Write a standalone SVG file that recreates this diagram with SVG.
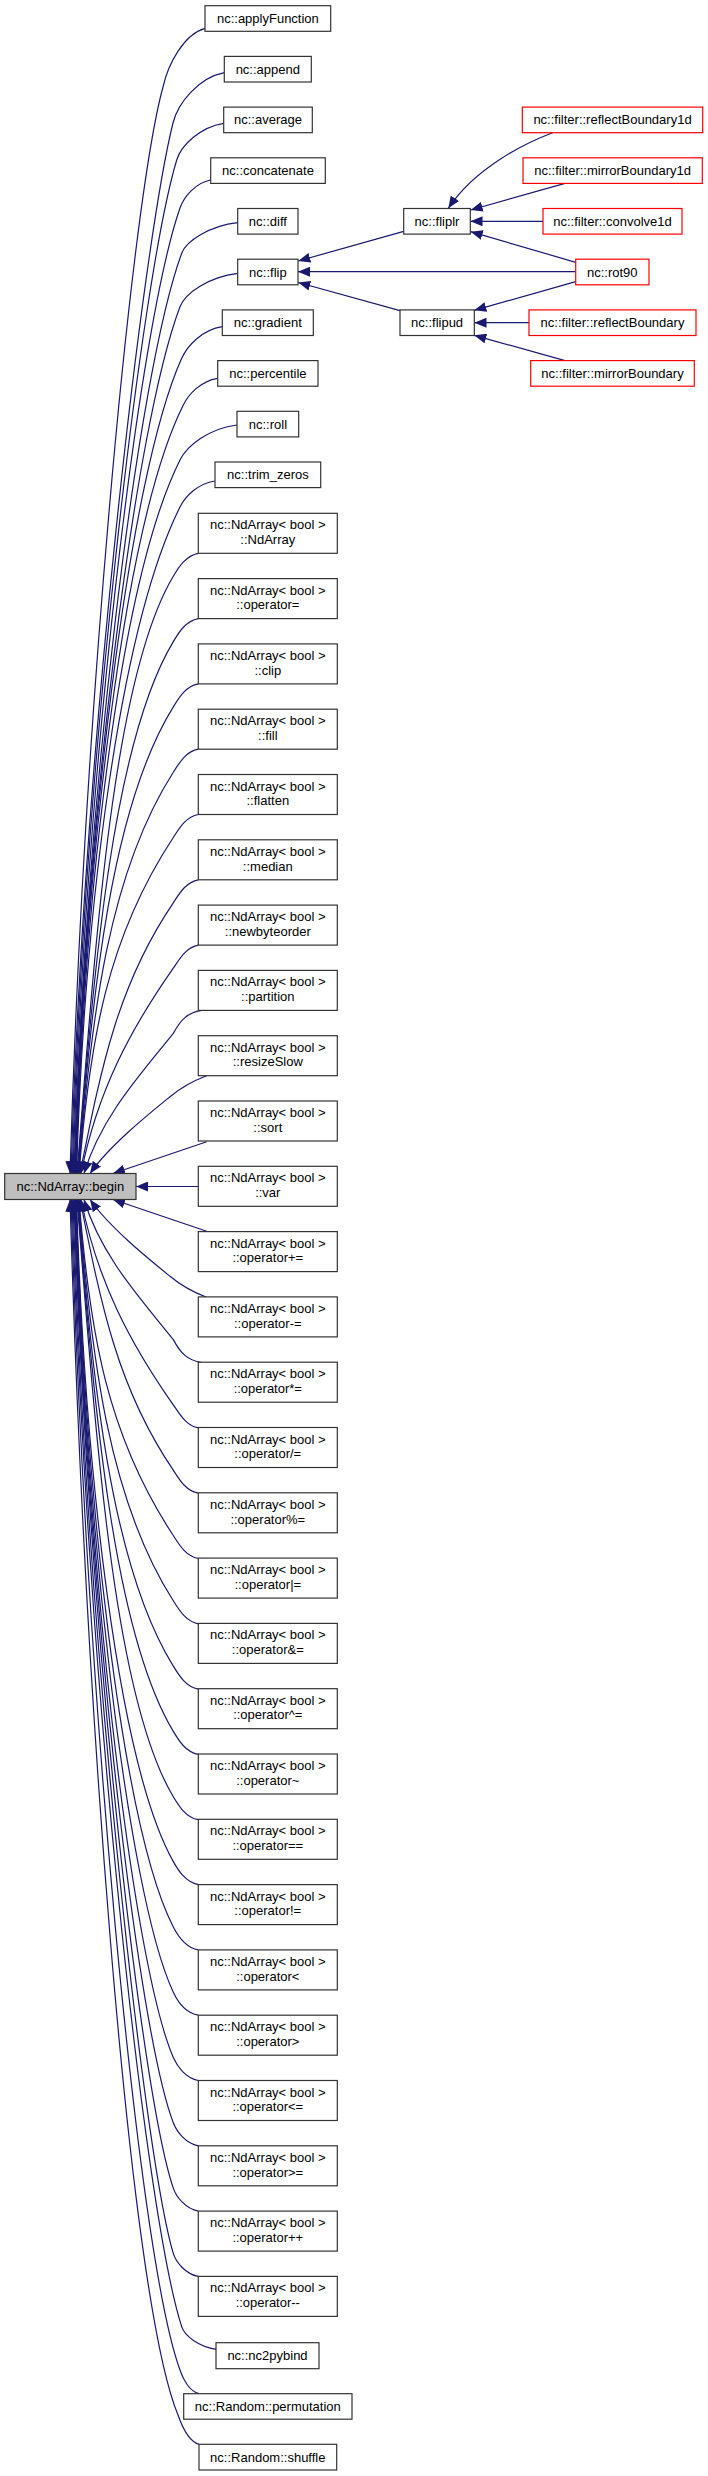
<svg xmlns="http://www.w3.org/2000/svg" width="708" height="2476" viewBox="0 0 708 2476">
<style>
.n rect{fill:#fff;stroke:#333;stroke-width:1.2}
.r rect{fill:#fff;stroke:#f00;stroke-width:1.2}
.g rect{fill:#bfbfbf;stroke:#333;stroke-width:1.2}
text{font-family:'Liberation Sans',Arial,Helvetica,sans-serif;font-size:13px;fill:#000;text-anchor:middle}
#edges path{fill:none;stroke:#191970;stroke-width:1.2;marker-end:url(#ah)}
</style>
<defs>
<marker id="ah" markerUnits="userSpaceOnUse" markerWidth="12" markerHeight="10" refX="12" refY="5" orient="auto" viewBox="0 0 12 10"><path d="M0,0 L12,5 L0,10 Z" fill="#191970"/></marker>
</defs>
<rect width="708" height="2476" fill="#fff"/>
<g id="edges">
<path d="M205,28.3 C184,34.2 168.2,63.5 163,87 C130,207 83,738.9 70,1173.5"/>
<path d="M224.3,72.7 C198.7,77.7 178,102.9 173,123 C143,243 83.6,753.3 71,1173.5"/>
<path d="M223.7,123.3 C200.2,127 181.1,145.3 176.7,160 C140.7,280 84.2,768.1 72,1173.5"/>
<path d="M210.7,180 C195.4,182.8 183.9,196.8 180,208 C138,328 84.6,787.3 73,1173.5"/>
<path d="M237.7,222.7 C209.7,225.8 186.2,241.1 181.7,253.3 C137.3,373.3 85,805.4 74,1173.5"/>
<path d="M237.7,273.3 C208.9,276.6 185.1,293.3 180,306.7 C134.4,426.7 84.9,826.8 74.5,1173.5"/>
<path d="M222.3,326.7 C202,329.9 187.4,345.7 181.7,358.3 C127.7,478.3 84.8,847.4 75,1173.5"/>
<path d="M217.7,378.3 C200.5,381 188.6,394.3 183.3,405 C123.3,525 84.7,866.1 75.5,1173.5"/>
<path d="M237,425 C208.5,428.5 187,446 180,460 C120,580 84.6,888.1 76,1173.5"/>
<path d="M215,481 C197.5,483.6 185.2,496.6 180,507 C120,627 84.5,906.9 76.5,1173.5"/>
<path d="M198.3,553.3 C185.8,555.6 178.8,567.1 173.3,576.3 C113.3,676.3 96.1,934.6 77,1173.5"/>
<path d="M198.3,618.6 C185.8,620.9 178.8,632.4 173.3,641.6 C113.3,741.6 94.5,960.7 77.5,1173.5"/>
<path d="M198.3,683.9 C185.8,686.2 179,697.7 173.3,706.9 C111.3,806.9 92.9,986.9 78,1173.5"/>
<path d="M198.3,749.2 C185.8,751.5 179.2,763 173.3,772.2 C109.3,872.2 91.3,1013 78.5,1173.5"/>
<path d="M198.3,814.5 C185.8,816.8 179.2,828.3 173.3,837.5 C107.3,937.5 89.8,1039.1 79,1173.5"/>
<path d="M198.3,879.8 C185.8,882.1 179.3,893.6 173.3,902.8 C118.1,984 101.7,1065.2 80,1173.5"/>
<path d="M198.3,945.1 C185.8,947.4 179.7,959 173.3,968.1 C130.2,1029.7 97.4,1091.3 81,1173.5"/>
<path d="M201.7,1010.4 C187.5,1012.7 180.7,1019.6 173.3,1033.4 C139.7,1075.4 100.8,1117.5 84,1173.5"/>
<path d="M206.7,1075.7 C190,1082 178,1090 170,1096.7 C150,1113 110,1145 90,1173.5"/>
<path d="M206.7,1141.7 L113,1173.5"/>
<path d="M198.3,1186.5 L136,1186.5"/>
<path d="M206.7,1231.3 L113,1199.5"/>
<path d="M206.7,1297.3 C190,1291 178,1283 170,1276.3 C150,1260 110,1228 90,1199.5"/>
<path d="M201.7,1362.6 C187.5,1360.3 180.7,1353.4 173.3,1339.6 C139.7,1297.6 100.8,1255.5 84,1199.5"/>
<path d="M198.3,1427.9 C185.8,1425.6 179.7,1414 173.3,1404.9 C130.2,1343.3 97.4,1281.7 81,1199.5"/>
<path d="M198.3,1493.2 C185.8,1490.9 179.3,1479.4 173.3,1470.2 C118.1,1389 101.7,1307.8 80,1199.5"/>
<path d="M198.3,1558.5 C185.8,1556.2 179.2,1544.7 173.3,1535.5 C107.3,1435.5 89.8,1333.9 79,1199.5"/>
<path d="M198.3,1623.8 C185.8,1621.5 179.2,1610 173.3,1600.8 C109.3,1500.8 91.3,1360 78.5,1199.5"/>
<path d="M198.3,1689.1 C185.8,1686.8 179,1675.3 173.3,1666.1 C111.3,1566.1 92.9,1386.1 78,1199.5"/>
<path d="M198.3,1754.4 C185.8,1752.1 178.8,1740.6 173.3,1731.4 C113.3,1631.4 94.5,1412.3 77.5,1199.5"/>
<path d="M198.3,1819.7 C185.8,1817.4 178.8,1805.9 173.3,1796.7 C113.3,1696.7 96.1,1438.4 77,1199.5"/>
<path d="M198.3,1884.6 C185.8,1882.3 178.5,1870.8 173.3,1861.6 C117.3,1761.6 84.4,1464.3 76.5,1199.5"/>
<path d="M198.3,1949.9 C185.8,1947.6 178,1936.1 173.3,1926.9 C121.8,1826.9 84.7,1490.5 76,1199.5"/>
<path d="M198.3,2015.2 C185.8,2012.9 177.6,2001.4 173.3,1992.2 C126.3,1892.2 85,1516.6 75.5,1199.5"/>
<path d="M198.3,2080.5 C185.8,2078.2 177.3,2066.7 173.3,2057.5 C130.3,1957.5 85.3,1542.7 75,1199.5"/>
<path d="M198.3,2145.8 C185.8,2143.5 176.8,2132 173.3,2122.8 C135.3,2022.8 85.6,1568.8 74.5,1199.5"/>
<path d="M198.3,2211.1 C185.8,2208.8 176.4,2197.3 173.3,2188.1 C139.3,2088.1 85.9,1594.9 74,1199.5"/>
<path d="M198.3,2276.4 C185.8,2274.1 176.1,2262.6 173.3,2253.4 C143.3,2153.4 85.6,1621.1 73,1199.5"/>
<path d="M216.3,2349.3 C199,2347 184.4,2335.7 181.7,2326.7 C143,2206.7 85.5,1650.4 72,1199.5"/>
<path d="M199,2393.7 C189.5,2391.3 183.1,2379.5 180,2370 C136,2250 85,1667.7 71,1199.5"/>
<path d="M199,2444.3 C188.5,2441.4 182.1,2426.7 178,2415 C128,2295 84.6,1685.7 70,1199.5"/>
<path d="M403.7,231.3 L298.3,261"/>
<path d="M575.7,271.7 L298,271.7"/>
<path d="M400,310.7 L298.3,282.5"/>
<path d="M552.7,132.7 C525,143 475,168 448.3,208.3"/>
<path d="M565,183.3 L470.7,210"/>
<path d="M543,221.3 L470.5,221.3"/>
<path d="M575.7,262.3 L470.7,231.7"/>
<path d="M575.7,281.7 L474.3,310.3"/>
<path d="M529,322.7 L474.5,322.7"/>
<path d="M565,360.7 L474.3,335.3"/>
</g>
<g id="begin" class="g"><rect x="4.7" y="1173.5" width="131.3" height="26"/><text x="70.3" y="1191">nc::NdArray::begin</text></g>
<g id="applyFunction" class="n"><rect x="205" y="5.7" width="125.7" height="25.6"/><text x="267.9" y="23">nc::applyFunction</text></g>
<g id="append" class="n"><rect x="224.3" y="56.4" width="87" height="25.6"/><text x="267.8" y="73.7">nc::append</text></g>
<g id="average" class="n"><rect x="223.7" y="107.1" width="88.6" height="25.6"/><text x="268" y="124.4">nc::average</text></g>
<g id="concatenate" class="n"><rect x="210.7" y="157.8" width="114.6" height="25.6"/><text x="268" y="175.1">nc::concatenate</text></g>
<g id="diff" class="n"><rect x="237.7" y="208.5" width="60.3" height="25.6"/><text x="267.9" y="225.8">nc::diff</text></g>
<g id="flip" class="n"><rect x="237.7" y="259.2" width="60.3" height="25.6"/><text x="267.9" y="276.5">nc::flip</text></g>
<g id="gradient" class="n"><rect x="222.3" y="309.9" width="91" height="25.6"/><text x="267.8" y="327.2">nc::gradient</text></g>
<g id="percentile" class="n"><rect x="217.7" y="360.6" width="100.3" height="25.6"/><text x="267.9" y="377.9">nc::percentile</text></g>
<g id="roll" class="n"><rect x="237" y="411.3" width="61.7" height="25.6"/><text x="267.9" y="428.6">nc::roll</text></g>
<g id="trim_zeros" class="n"><rect x="215" y="462" width="105.7" height="25.6"/><text x="267.9" y="479.3">nc::trim_zeros</text></g>
<g id="NdArray" class="n"><rect x="198.3" y="513.3" width="139" height="40"/><text x="267.8" y="529.3">nc::NdArray&lt; bool &gt;</text><text x="267.8" y="544">::NdArray</text></g>
<g id="op_assign" class="n"><rect x="198.3" y="578.6" width="139" height="40"/><text x="267.8" y="594.6">nc::NdArray&lt; bool &gt;</text><text x="267.8" y="609.3">::operator=</text></g>
<g id="clip" class="n"><rect x="198.3" y="643.9" width="139" height="40"/><text x="267.8" y="659.9">nc::NdArray&lt; bool &gt;</text><text x="267.8" y="674.6">::clip</text></g>
<g id="fill" class="n"><rect x="198.3" y="709.2" width="139" height="40"/><text x="267.8" y="725.2">nc::NdArray&lt; bool &gt;</text><text x="267.8" y="739.9">::fill</text></g>
<g id="flatten" class="n"><rect x="198.3" y="774.5" width="139" height="40"/><text x="267.8" y="790.5">nc::NdArray&lt; bool &gt;</text><text x="267.8" y="805.2">::flatten</text></g>
<g id="median" class="n"><rect x="198.3" y="839.8" width="139" height="40"/><text x="267.8" y="855.8">nc::NdArray&lt; bool &gt;</text><text x="267.8" y="870.5">::median</text></g>
<g id="newbyteorder" class="n"><rect x="198.3" y="905.1" width="139" height="40"/><text x="267.8" y="921.1">nc::NdArray&lt; bool &gt;</text><text x="267.8" y="935.8">::newbyteorder</text></g>
<g id="partition" class="n"><rect x="198.3" y="970.4" width="139" height="40"/><text x="267.8" y="986.4">nc::NdArray&lt; bool &gt;</text><text x="267.8" y="1001.1">::partition</text></g>
<g id="resizeSlow" class="n"><rect x="198.3" y="1035.7" width="139" height="40"/><text x="267.8" y="1051.7">nc::NdArray&lt; bool &gt;</text><text x="267.8" y="1066.4">::resizeSlow</text></g>
<g id="sort" class="n"><rect x="198.3" y="1101" width="139" height="40"/><text x="267.8" y="1117">nc::NdArray&lt; bool &gt;</text><text x="267.8" y="1131.7">::sort</text></g>
<g id="var" class="n"><rect x="198.3" y="1166.3" width="139" height="40"/><text x="267.8" y="1182.3">nc::NdArray&lt; bool &gt;</text><text x="267.8" y="1197">::var</text></g>
<g id="op_plus_eq" class="n"><rect x="198.3" y="1231.6" width="139" height="40"/><text x="267.8" y="1247.6">nc::NdArray&lt; bool &gt;</text><text x="267.8" y="1262.3">::operator+=</text></g>
<g id="op_minus_eq" class="n"><rect x="198.3" y="1296.9" width="139" height="40"/><text x="267.8" y="1312.9">nc::NdArray&lt; bool &gt;</text><text x="267.8" y="1327.6">::operator-=</text></g>
<g id="op_mul_eq" class="n"><rect x="198.3" y="1362.2" width="139" height="40"/><text x="267.8" y="1378.2">nc::NdArray&lt; bool &gt;</text><text x="267.8" y="1392.9">::operator*=</text></g>
<g id="op_div_eq" class="n"><rect x="198.3" y="1427.5" width="139" height="40"/><text x="267.8" y="1443.5">nc::NdArray&lt; bool &gt;</text><text x="267.8" y="1458.2">::operator/=</text></g>
<g id="op_mod_eq" class="n"><rect x="198.3" y="1492.8" width="139" height="40"/><text x="267.8" y="1508.8">nc::NdArray&lt; bool &gt;</text><text x="267.8" y="1523.5">::operator%=</text></g>
<g id="op_or_eq" class="n"><rect x="198.3" y="1558.1" width="139" height="40"/><text x="267.8" y="1574.1">nc::NdArray&lt; bool &gt;</text><text x="267.8" y="1588.8">::operator|=</text></g>
<g id="op_and_eq" class="n"><rect x="198.3" y="1623.4" width="139" height="40"/><text x="267.8" y="1639.4">nc::NdArray&lt; bool &gt;</text><text x="267.8" y="1654.1">::operator&amp;=</text></g>
<g id="op_xor_eq" class="n"><rect x="198.3" y="1688.7" width="139" height="40"/><text x="267.8" y="1704.7">nc::NdArray&lt; bool &gt;</text><text x="267.8" y="1719.4">::operator^=</text></g>
<g id="op_not" class="n"><rect x="198.3" y="1754" width="139" height="40"/><text x="267.8" y="1770">nc::NdArray&lt; bool &gt;</text><text x="267.8" y="1784.7">::operator~</text></g>
<g id="op_eq" class="n"><rect x="198.3" y="1819.3" width="139" height="40"/><text x="267.8" y="1835.3">nc::NdArray&lt; bool &gt;</text><text x="267.8" y="1850">::operator==</text></g>
<g id="op_ne" class="n"><rect x="198.3" y="1884.6" width="139" height="40"/><text x="267.8" y="1900.6">nc::NdArray&lt; bool &gt;</text><text x="267.8" y="1915.3">::operator!=</text></g>
<g id="op_lt" class="n"><rect x="198.3" y="1949.9" width="139" height="40"/><text x="267.8" y="1965.9">nc::NdArray&lt; bool &gt;</text><text x="267.8" y="1980.6">::operator&lt;</text></g>
<g id="op_gt" class="n"><rect x="198.3" y="2015.2" width="139" height="40"/><text x="267.8" y="2031.2">nc::NdArray&lt; bool &gt;</text><text x="267.8" y="2045.9">::operator&gt;</text></g>
<g id="op_le" class="n"><rect x="198.3" y="2080.5" width="139" height="40"/><text x="267.8" y="2096.5">nc::NdArray&lt; bool &gt;</text><text x="267.8" y="2111.2">::operator&lt;=</text></g>
<g id="op_ge" class="n"><rect x="198.3" y="2145.8" width="139" height="40"/><text x="267.8" y="2161.8">nc::NdArray&lt; bool &gt;</text><text x="267.8" y="2176.5">::operator&gt;=</text></g>
<g id="op_inc" class="n"><rect x="198.3" y="2211.1" width="139" height="40"/><text x="267.8" y="2227.1">nc::NdArray&lt; bool &gt;</text><text x="267.8" y="2241.8">::operator++</text></g>
<g id="op_dec" class="n"><rect x="198.3" y="2276.4" width="139" height="40"/><text x="267.8" y="2292.4">nc::NdArray&lt; bool &gt;</text><text x="267.8" y="2307.1">::operator--</text></g>
<g id="nc2pybind" class="n"><rect x="216" y="2342.7" width="103" height="26"/><text x="267.5" y="2360.2">nc::nc2pybind</text></g>
<g id="permutation" class="n"><rect x="183.7" y="2393.7" width="168.3" height="25.5"/><text x="267.8" y="2411">nc::Random::permutation</text></g>
<g id="shuffle" class="n"><rect x="199" y="2444.3" width="137.7" height="25.7"/><text x="267.8" y="2461.6">nc::Random::shuffle</text></g>
<g id="fliplr" class="n"><rect x="403.7" y="208.5" width="66.6" height="25.6"/><text x="437" y="225.8">nc::fliplr</text></g>
<g id="flipud" class="n"><rect x="400" y="309.9" width="74.3" height="25.6"/><text x="437.1" y="327.2">nc::flipud</text></g>
<g id="reflectBoundary1d" class="r"><rect x="522.3" y="107.1" width="180.4" height="25.6"/><text x="612.5" y="124.4">nc::filter::reflectBoundary1d</text></g>
<g id="mirrorBoundary1d" class="r"><rect x="523" y="157.8" width="179.3" height="25.6"/><text x="612.6" y="175.1">nc::filter::mirrorBoundary1d</text></g>
<g id="convolve1d" class="r"><rect x="543" y="208.5" width="139" height="25.6"/><text x="612.5" y="225.8">nc::filter::convolve1d</text></g>
<g id="rot90" class="r"><rect x="575.7" y="259.2" width="73.3" height="25.6"/><text x="612.3" y="276.5">nc::rot90</text></g>
<g id="reflectBoundary" class="r"><rect x="529" y="309.9" width="167" height="25.6"/><text x="612.5" y="327.2">nc::filter::reflectBoundary</text></g>
<g id="mirrorBoundary" class="r"><rect x="530.7" y="360.6" width="163.6" height="25.6"/><text x="612.5" y="377.9">nc::filter::mirrorBoundary</text></g>
</svg>
